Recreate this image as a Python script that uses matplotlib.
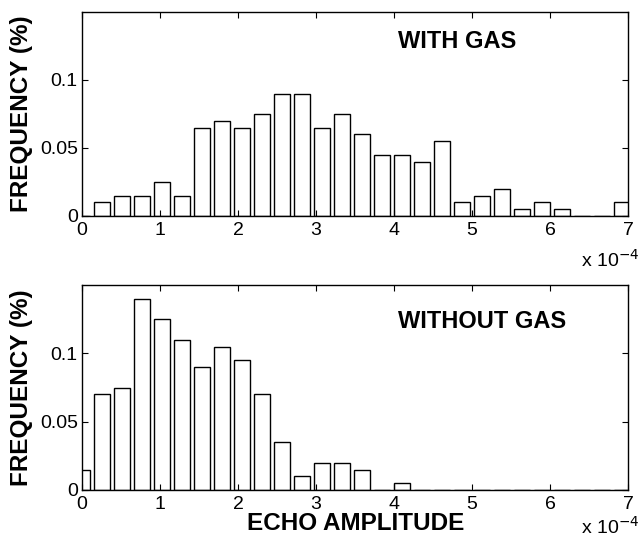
import numpy as np
import matplotlib
matplotlib.use("Agg")
import matplotlib.pyplot as plt

plt.rcParams['font.family'] = ['Liberation Sans', 'DejaVu Sans']

# Bin grid (units of 1e-4)
bin_width = 0.2565
n_bins = 28
bin_centers = bin_width * np.arange(n_bins)

freq_with_gas = [0.0, 0.01, 0.015, 0.015, 0.025, 0.015, 0.065, 0.07, 0.065, 0.075,
                 0.09, 0.09, 0.065, 0.075, 0.06, 0.045, 0.045, 0.04, 0.055, 0.01,
                 0.015, 0.02, 0.005, 0.01, 0.005, 0.0, 0.0, 0.01]
freq_without_gas = [0.015, 0.07, 0.075, 0.14, 0.125, 0.11, 0.09, 0.105, 0.095, 0.07,
                    0.035, 0.01, 0.02, 0.02, 0.015, 0.0, 0.005, 0.0, 0.0, 0.0,
                    0.0, 0.0, 0.0, 0.0, 0.0, 0.0, 0.0, 0.0]

x_ticks = [0, 1, 2, 3, 4, 5, 6, 7]
y_ticks = [0, 0.05, 0.1]
y_tick_labels = ['0', '0.05', '0.1']
titles = ['WITH GAS', 'WITHOUT GAS']

fig = plt.figure(figsize=(6.44, 5.42), dpi=100)
W, H = 644, 542
ax1 = fig.add_axes([82 / W, 1 - 216 / H, 546 / W, 204 / H])
ax2 = fig.add_axes([82 / W, 1 - 490 / H, 546 / W, 205 / H])

title_y = [0.853, 0.82]
mult_y = [-0.215, -0.18]
for i, (ax, vals) in enumerate([(ax1, freq_with_gas), (ax2, freq_without_gas)]):
    ax.bar(bin_centers, vals, width=0.8 * bin_width, color='white',
           edgecolor='black', linewidth=1.0, align='center')
    ax.set_xlim(0, 7)
    ax.set_ylim(0, 0.15)
    ax.set_xticks(x_ticks)
    ax.set_xticklabels([str(t) for t in x_ticks])
    ax.set_yticks(y_ticks)
    ax.set_yticklabels(y_tick_labels)
    ax.tick_params(direction='in', length=4, width=0.8, labelsize=14,
                   top=True, right=True)
    ax.tick_params(axis='x', pad=4)
    ax.tick_params(axis='y', pad=3)
    for s in ax.spines.values():
        s.set_linewidth(1.0)
    ax.set_ylabel('FREQUENCY (%)', fontsize=17.5, fontweight='bold')
    ax.yaxis.set_label_coords(-0.09, 0.5)
    ax.text(0.579, title_y[i], titles[i], transform=ax.transAxes, fontsize=17,
            fontweight='bold', ha='left', va='center')
    ax.text(1.02, mult_y[i], r'x 10$^{-4}$', transform=ax.transAxes, fontsize=14,
            ha='right', va='center')

ax2.set_xlabel('ECHO AMPLITUDE', fontsize=17.5, fontweight='bold')
ax2.xaxis.set_label_coords(0.501, -0.105)

fig.savefig('out.png', dpi=100)
